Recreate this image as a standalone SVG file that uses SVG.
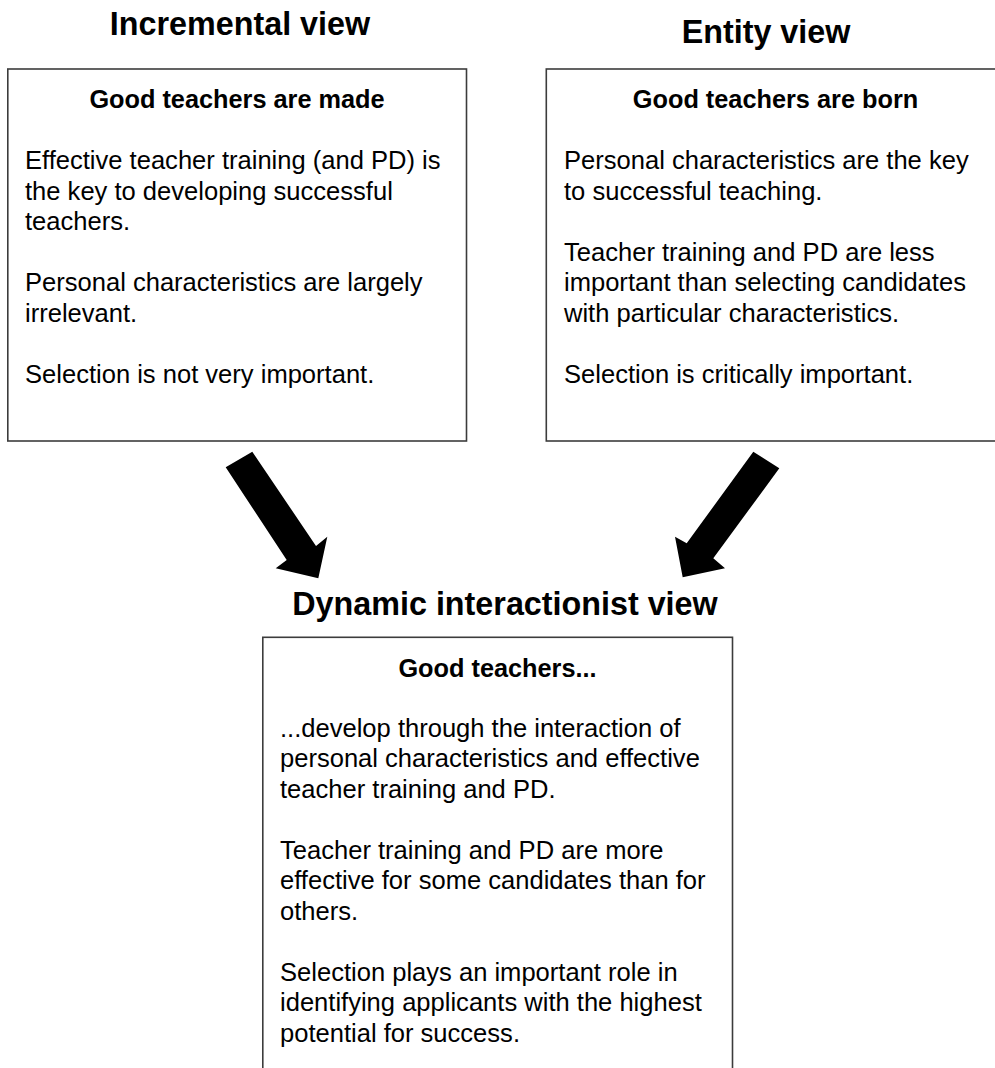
<svg xmlns="http://www.w3.org/2000/svg" width="995" height="1068" viewBox="0 0 995 1068">
  <style>
    .box { fill: #ffffff; stroke: #3c3c3c; stroke-width: 1.6; }
    .title { font-family: "Liberation Sans", Arial, sans-serif; font-weight: bold; font-size: 32.3px; fill: #000; text-anchor: middle; }
    .head { font-family: "Liberation Sans", Arial, sans-serif; font-weight: bold; font-size: 25.3px; fill: #000; text-anchor: middle; }
    .body { font-family: "Liberation Sans", Arial, sans-serif; font-size: 25.55px; fill: #000; }
    .arrow { fill: #000; stroke: none; }
  </style>
  <rect x="0" y="0" width="995" height="1068" fill="#ffffff"/>

  <g id="incremental">
    <text class="title" x="240" y="35">Incremental view</text>
    <rect class="box" x="7.8" y="69" width="458.7" height="372"/>
    <text class="head" x="237" y="108.3">Good teachers are made</text>
    <text class="body">
      <tspan x="25" y="169">Effective teacher training (and PD) is</tspan>
      <tspan x="25" y="199.5">the key to developing successful</tspan>
      <tspan x="25" y="230">teachers.</tspan>
      <tspan x="25" y="291">Personal characteristics are largely</tspan>
      <tspan x="25" y="321.5">irrelevant.</tspan>
      <tspan x="25" y="382.5">Selection is not very important.</tspan>
    </text>
  </g>

  <g id="entity">
    <text class="title" x="766" y="42.7">Entity view</text>
    <rect class="box" x="546.3" y="69" width="470" height="372"/>
    <text class="head" x="775.5" y="108.3">Good teachers are born</text>
    <text class="body">
      <tspan x="564" y="169">Personal characteristics are the key</tspan>
      <tspan x="564" y="199.5">to successful teaching.</tspan>
      <tspan x="564" y="260.5">Teacher training and PD are less</tspan>
      <tspan x="564" y="291">important than selecting candidates</tspan>
      <tspan x="564" y="321.5">with particular characteristics.</tspan>
      <tspan x="564" y="382.5">Selection is critically important.</tspan>
    </text>
  </g>

  <g id="dynamic">
    <text class="title" x="505" y="615">Dynamic interactionist view</text>
    <rect class="box" x="262.8" y="637.3" width="469.7" height="450"/>
    <text class="head" x="497.5" y="676.7">Good teachers...</text>
    <text class="body">
      <tspan x="280" y="736.7">...develop through the interaction of</tspan>
      <tspan x="280" y="767.2">personal characteristics and effective</tspan>
      <tspan x="280" y="797.7">teacher training and PD.</tspan>
      <tspan x="280" y="858.7">Teacher training and PD are more</tspan>
      <tspan x="280" y="889.2">effective for some candidates than for</tspan>
      <tspan x="280" y="919.7">others.</tspan>
      <tspan x="280" y="980.7">Selection plays an important role in</tspan>
      <tspan x="280" y="1011.2">identifying applicants with the highest</tspan>
      <tspan x="280" y="1041.7">potential for success.</tspan>
    </text>
  </g>

  <g id="connectors">
    <polygon class="arrow" points="225.7,467.3 252.3,451.7 316,546 327.3,536.7 318.3,578.3 275.7,568.3 286.7,560"/>
    <polygon class="arrow" points="753.3,451.7 779.3,468.3 713.3,558.3 725,568.3 682.7,577.3 675,536.7 686.7,543.3"/>
  </g>
</svg>
